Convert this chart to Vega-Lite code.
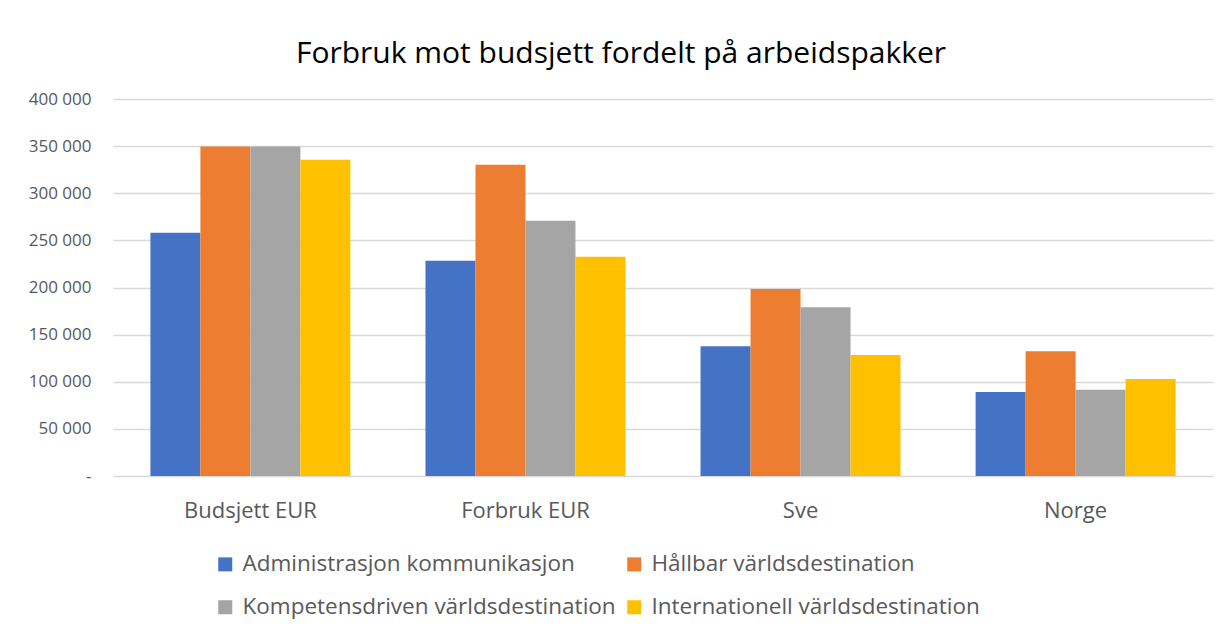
{
  "$schema": "https://vega.github.io/schema/vega-lite/v6.json",
  "width": 1100,
  "height": 377,
  "autosize": {"type": "none"},
  "padding": {"left": 113, "top": 99, "right": 13, "bottom": 157},
  "background": "white",
  "title": {
    "text": "Forbruk mot budsjett fordelt på arbeidspakker",
    "fontSize": 30,
    "font": "Open Sans",
    "fontWeight": "normal",
    "color": "#000000",
    "anchor": "middle",
    "dx": -42,
    "offset": 21
  },
  "data": {
    "values": [
      {"gruppe": "Budsjett EUR", "serie": "Administrasjon kommunikasjon", "verdi": 258000},
      {"gruppe": "Budsjett EUR", "serie": "Hållbar världsdestination", "verdi": 349500},
      {"gruppe": "Budsjett EUR", "serie": "Kompetensdriven världsdestination", "verdi": 349500},
      {"gruppe": "Budsjett EUR", "serie": "Internationell världsdestination", "verdi": 335500},
      {"gruppe": "Forbruk EUR", "serie": "Administrasjon kommunikasjon", "verdi": 228300},
      {"gruppe": "Forbruk EUR", "serie": "Hållbar världsdestination", "verdi": 330200},
      {"gruppe": "Forbruk EUR", "serie": "Kompetensdriven världsdestination", "verdi": 270800},
      {"gruppe": "Forbruk EUR", "serie": "Internationell världsdestination", "verdi": 232600},
      {"gruppe": "Sve", "serie": "Administrasjon kommunikasjon", "verdi": 137700},
      {"gruppe": "Sve", "serie": "Hållbar världsdestination", "verdi": 198300},
      {"gruppe": "Sve", "serie": "Kompetensdriven världsdestination", "verdi": 179100},
      {"gruppe": "Sve", "serie": "Internationell världsdestination", "verdi": 128500},
      {"gruppe": "Norge", "serie": "Administrasjon kommunikasjon", "verdi": 89200},
      {"gruppe": "Norge", "serie": "Hållbar världsdestination", "verdi": 132400},
      {"gruppe": "Norge", "serie": "Kompetensdriven världsdestination", "verdi": 91600},
      {"gruppe": "Norge", "serie": "Internationell världsdestination", "verdi": 103000}
    ]
  },
  "mark": {"type": "bar"},
  "encoding": {
    "x": {
      "field": "gruppe",
      "type": "nominal",
      "sort": ["Budsjett EUR", "Forbruk EUR", "Sve", "Norge"],
      "scale": {"paddingInner": 0.273, "paddingOuter": 0.136},
      "axis": {
        "title": null,
        "labelAngle": 0,
        "labelFontSize": 22,
        "labelFont": "Open Sans",
        "labelColor": "#595959",
        "labelPadding": 24,
        "ticks": false,
        "domain": false
      }
    },
    "xOffset": {
      "field": "serie",
      "type": "nominal",
      "sort": ["Administrasjon kommunikasjon", "Hållbar världsdestination", "Kompetensdriven världsdestination", "Internationell världsdestination"]
    },
    "y": {
      "field": "verdi",
      "type": "quantitative",
      "scale": {"domain": [0, 400000], "nice": false},
      "axis": {
        "title": null,
        "values": [0, 50000, 100000, 150000, 200000, 250000, 300000, 350000, 400000],
        "labelExpr": "datum.value == 0 ? '-' : replace(format(datum.value, ','), ',', ' ')",
        "labelFontSize": 17,
        "labelFont": "Open Sans",
        "labelColor": "#595959",
        "labelPadding": 22,
        "ticks": false,
        "domain": false,
        "grid": true,
        "gridColor": "#D9D9D9",
        "gridWidth": 1.5
      }
    },
    "color": {
      "field": "serie",
      "type": "nominal",
      "sort": ["Administrasjon kommunikasjon", "Hållbar världsdestination", "Kompetensdriven världsdestination", "Internationell världsdestination"],
      "scale": {"range": ["#4472C4", "#ED7D31", "#A5A5A5", "#FFC000"]},
      "legend": {
        "title": null,
        "orient": "none",
        "legendX": 101,
        "legendY": 454,
        "direction": "horizontal",
        "columns": 2,
        "columnPadding": 7,
        "rowPadding": 20,
        "symbolType": "square",
        "symbolSize": 196,
        "symbolStrokeWidth": 0,
        "labelFontSize": 22.5,
        "labelFont": "Open Sans",
        "labelColor": "#595959",
        "labelOffset": 6,
        "labelLimit": 600
      }
    }
  },
  "config": {
    "view": {"stroke": null}
  }
}
